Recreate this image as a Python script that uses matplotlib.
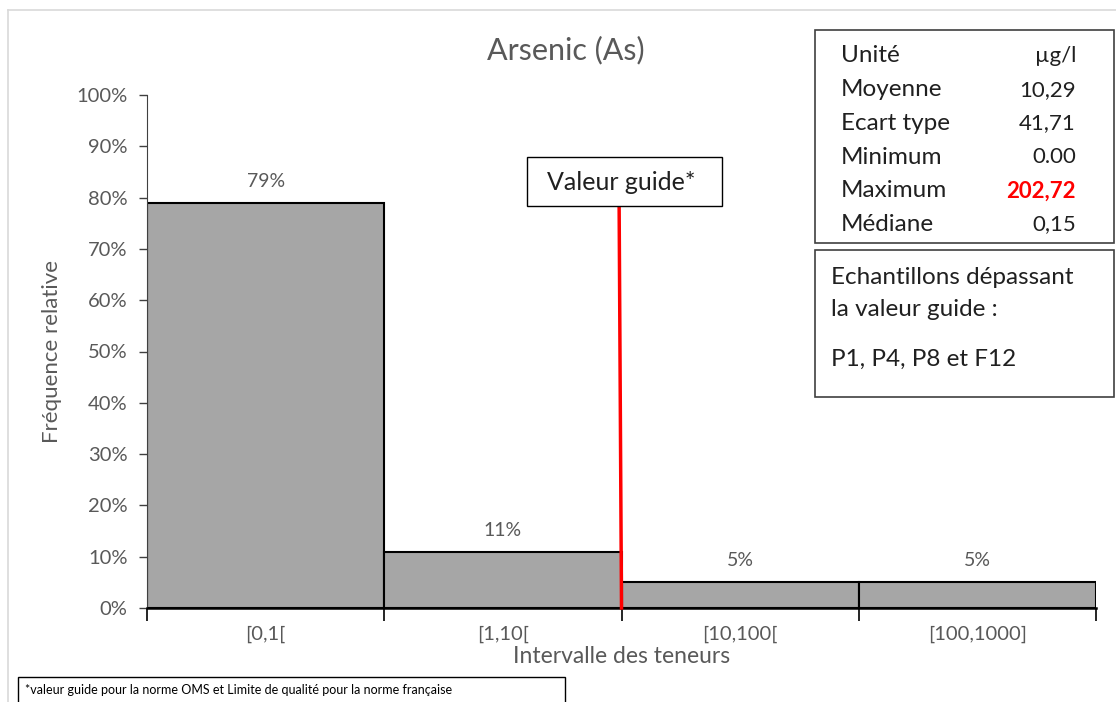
import matplotlib.pyplot as plt
from matplotlib.patches import Rectangle
from matplotlib.lines import Line2D

plt.rcParams["font.family"] = ["Lato", "DejaVu Sans"]

intervals = ["[0,1[", "[1,10[", "[10,100[", "[100,1000]"]
freq = [79, 11, 5, 5]
guide_pos = 2  # boundary between [1,10[ and [10,100[

stat_names = ["Unité", "Moyenne", "Ecart type", "Minimum", "Maximum", "Médiane"]
stat_values = ["µg/l", "10,29", "41,71", "0.00", "202,72", "0,15"]
exceed_lines = ["Echantillons dépassant", "la valeur guide :", "P1, P4, P8 et F12"]

W, H = 1116, 702
GREY = "#595959"
DARK = "#202020"

fig = plt.figure(figsize=(W / 100, H / 100), dpi=100)


def fx(px):
    return px / W


def fy(py):
    return 1 - py / H


# outer chart frame
fig.add_artist(Line2D([fx(8), fx(8)], [fy(10), 0], color="#D9D9D9", lw=1.2))
fig.add_artist(Line2D([fx(8), 1], [fy(10), fy(10)], color="#D9D9D9", lw=1.2))

ax = fig.add_axes([fx(147), fy(608), fx(1096) - fx(147), fy(95) - fy(608)])
ax.bar(range(len(freq)), freq, width=1.0, align="edge",
       color="#A6A6A6", edgecolor="black", linewidth=1.5, zorder=2)
for i, v in enumerate(freq):
    ax.text(i + 0.5, v + 4.2, f"{v}%", ha="center", va="center",
            fontsize=14, color=GREY)

ax.set_xlim(0, len(freq))
ax.set_ylim(0, 100)
ax.set_yticks(range(0, 101, 10))
ax.set_yticklabels([f"{t}%" for t in range(0, 101, 10)], fontsize=14.5, color=GREY)
ax.set_xticks(range(len(freq) + 1))
ax.set_xticklabels([])
ax.set_xticks([i + 0.5 for i in range(len(freq))], minor=True)
ax.set_xticklabels(intervals, minor=True, fontsize=14.5, color=GREY)
ax.tick_params(axis="x", which="major", length=9, width=1.2, color="black")
ax.tick_params(axis="x", which="minor", length=0, pad=13)
ax.tick_params(axis="y", length=6, width=1, color="#404040", pad=8)
for s in ["top", "right"]:
    ax.spines[s].set_visible(False)
ax.spines["left"].set_color("#404040")
ax.spines["bottom"].set_linewidth(1.8)
ax.spines["bottom"].set_color("black")
ax.set_ylabel("Fréquence relative", fontsize=16, color=GREY, labelpad=10)
ax.set_xlabel("Intervalle des teneurs", fontsize=16.5, color=GREY, labelpad=2)

# guide value line
ax.plot([guide_pos - 0.01, guide_pos], [78.4, 0], color="red", lw=2.5, zorder=3,
        clip_on=False)

fig.text(fx(566), fy(50), "Arsenic (As)", ha="center", va="center",
         fontsize=22, color=GREY)

# Valeur guide box
fig.add_artist(Rectangle((fx(527), fy(206)), fx(722) - fx(527), fy(157) - fy(206),
                         transform=fig.transFigure, fill=True, facecolor="white",
                         edgecolor="black", lw=1))
fig.text(fx(621), fy(182), "Valeur guide*", ha="center", va="center",
         fontsize=18, color=DARK)

# statistics box
fig.add_artist(Rectangle((fx(815), fy(243)), fx(1114) - fx(815), fy(30) - fy(243),
                         transform=fig.transFigure, fill=False,
                         edgecolor="#404040", lw=1.2))
for k, (name, val) in enumerate(zip(stat_names, stat_values)):
    y = fy(56 + k * 33.7)
    fig.text(fx(841), y, name, ha="left", va="center", fontsize=17.5, color=DARK)
    red = name == "Maximum"
    fig.text(fx(1076), y, val, ha="right", va="center", fontsize=16,
             color="red" if red else DARK,
             fontweight="bold" if red else "normal")

# exceedance box
fig.add_artist(Rectangle((fx(815), fy(397)), fx(1114) - fx(815), fy(250) - fy(397),
                         transform=fig.transFigure, fill=False,
                         edgecolor="#404040", lw=1.2))
for line, ypx in zip(exceed_lines, [277, 310, 359]):
    fig.text(fx(831), fy(ypx), line, ha="left", va="center",
             fontsize=17.5, color=DARK)

# footnote box
fig.add_artist(Rectangle((fx(18), fy(710)), fx(565) - fx(18), fy(677) - fy(710),
                         transform=fig.transFigure, fill=False,
                         edgecolor="black", lw=1))
fig.text(fx(25), fy(690), "*valeur guide pour la norme OMS et Limite de qualité pour la norme française",
         ha="left", va="center", fontsize=9, color="black")

fig.savefig("out.png", dpi=100)
